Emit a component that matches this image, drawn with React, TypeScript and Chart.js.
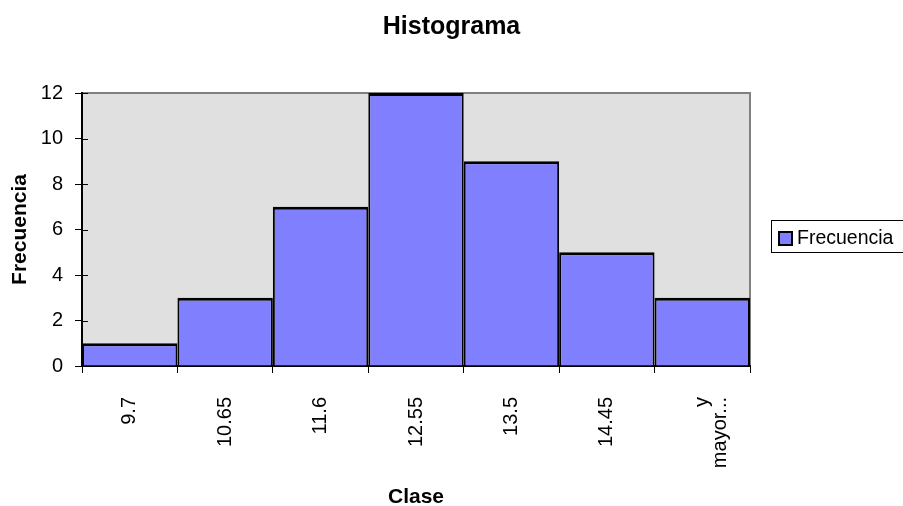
import React, { useEffect, useRef } from "react";
import { Chart, registerables } from "chart.js";

Chart.register(...registerables);

const chartTitle = "Histograma";
const xAxisTitle = "Clase";
const yAxisTitle = "Frecuencia";
const seriesLabel = "Frecuencia";
const categories: (string | string[])[] = ["9.7", "10.65", "11.6", "12.55", "13.5", "14.45", ["y", "mayor..."]];
const frequencies: number[] = [1, 3, 7, 12, 9, 5, 3];

const FONT = "'Liberation Sans', Arial, sans-serif";
const BAR_COLOR = "#8080ff";

const plotBgPlugin = {
  id: "plotBg",
  beforeDraw(chart: any) {
    const { ctx, chartArea } = chart;
    if (!chartArea) return;
    ctx.save();
    ctx.fillStyle = "#e0e0e0";
    ctx.fillRect(chartArea.left, chartArea.top, chartArea.right - chartArea.left, chartArea.bottom - chartArea.top);
    ctx.strokeStyle = "#808080";
    ctx.lineWidth = 2;
    ctx.beginPath();
    ctx.moveTo(chartArea.left, chartArea.top);
    ctx.lineTo(chartArea.right, chartArea.top);
    ctx.lineTo(chartArea.right, chartArea.bottom);
    ctx.stroke();
    ctx.restore();
  },
  afterDraw(chart: any) {
    const { ctx, chartArea, scales } = chart;
    if (!chartArea) return;
    ctx.save();
    // inner part of y ticks (crossing tick marks)
    ctx.strokeStyle = "#000";
    ctx.lineWidth = 1;
    const y = scales.y;
    y.ticks.forEach((t: any) => {
      const py = Math.round(y.getPixelForValue(t.value)) + 0.5;
      ctx.beginPath();
      ctx.moveTo(chartArea.left, py);
      ctx.lineTo(chartArea.left + 6, py);
      ctx.stroke();
    });
    // legend
    const lx = 771.5, ly = 220.5, lw = 140, lh = 32;
    ctx.strokeStyle = "#000";
    ctx.lineWidth = 1;
    ctx.strokeRect(lx, ly, lw, lh);
    ctx.fillStyle = BAR_COLOR;
    ctx.fillRect(779, 232, 13, 13);
    ctx.lineWidth = 2;
    ctx.strokeRect(779, 232, 13, 13);
    ctx.fillStyle = "#000";
    ctx.font = `19.5px ${FONT}`;
    ctx.textBaseline = "middle";
    ctx.textAlign = "left";
    ctx.fillText(seriesLabel, 797, 239);
    ctx.restore();
  },
};

export default function App() {
  const canvasRef = useRef<HTMLCanvasElement | null>(null);

  useEffect(() => {
    const canvas = canvasRef.current;
    if (!canvas) return;
    const chart = new Chart(canvas, {
      type: "bar",
      data: {
        labels: categories,
        datasets: [
          {
            label: seriesLabel,
            data: frequencies,
            backgroundColor: BAR_COLOR,
            borderColor: "#000",
            borderWidth: { top: 3, left: 2, right: 2, bottom: 0 },
            borderSkipped: false,
            inflateAmount: 0,
            barPercentage: 1,
            categoryPercentage: 1,
          },
        ],
      },
      options: {
        animation: false,
        responsive: false,
        maintainAspectRatio: false,
        layout: { padding: { left: 0, right: 0, top: 0, bottom: 0 } },
        plugins: {
          legend: { display: false },
          tooltip: { enabled: false },
          title: {
            display: true,
            text: chartTitle,
            color: "#000",
            font: { family: FONT, size: 25, weight: "bold", lineHeight: 1.2 },
            padding: { top: 12, bottom: 51 },
          },
        },
        scales: {
          x: {
            afterFit: (scale: any) => {
              scale.height = 140;
            },
            grid: {
              offset: true,
              drawOnChartArea: false,
              tickLength: 7,
              color: "#000",
              lineWidth: 1,
            },
            border: { display: true, color: "#000", width: 2 },
            ticks: {
              minRotation: 90,
              maxRotation: 90,
              autoSkip: false,
              padding: 24,
              color: "#000",
              font: { family: FONT, size: 20, lineHeight: 0.9 },
            },
            title: {
              display: true,
              text: xAxisTitle,
              color: "#000",
              font: { family: FONT, size: 21, weight: "bold", lineHeight: 0.85 },
              padding: { top: 0, bottom: 0 },
            },
          },
          y: {
            min: 0,
            max: 12,
            afterFit: (scale: any) => {
              scale.width = 82;
            },
            grid: {
              drawOnChartArea: false,
              tickLength: 7,
              color: "#000",
              lineWidth: 1,
            },
            border: { display: true, color: "#000", width: 2 },
            ticks: {
              stepSize: 2,
              padding: 12,
              color: "#000",
              font: { family: FONT, size: 20 },
            },
            title: {
              display: true,
              text: yAxisTitle,
              color: "#000",
              font: { family: FONT, size: 21, weight: "bold", lineHeight: 1.2 },
              padding: { top: 8, bottom: 0 },
            },
          },
          legendSpace: {
            type: "linear",
            position: "right",
            display: true,
            afterFit: (scale: any) => {
              scale.width = 153;
            },
            grid: { display: false, drawTicks: false },
            border: { display: false },
            ticks: { display: false },
            title: { display: false },
          },
        },
      },
      plugins: [plotBgPlugin],
    } as any);
    return () => chart.destroy();
  }, []);

  return (
    <div style={{ position: "fixed", left: 0, top: 0, width: 903, height: 506, background: "#fff" }}>
      <canvas ref={canvasRef} width={903} height={506} style={{ width: 903, height: 506, display: "block" }} />
    </div>
  );
}
